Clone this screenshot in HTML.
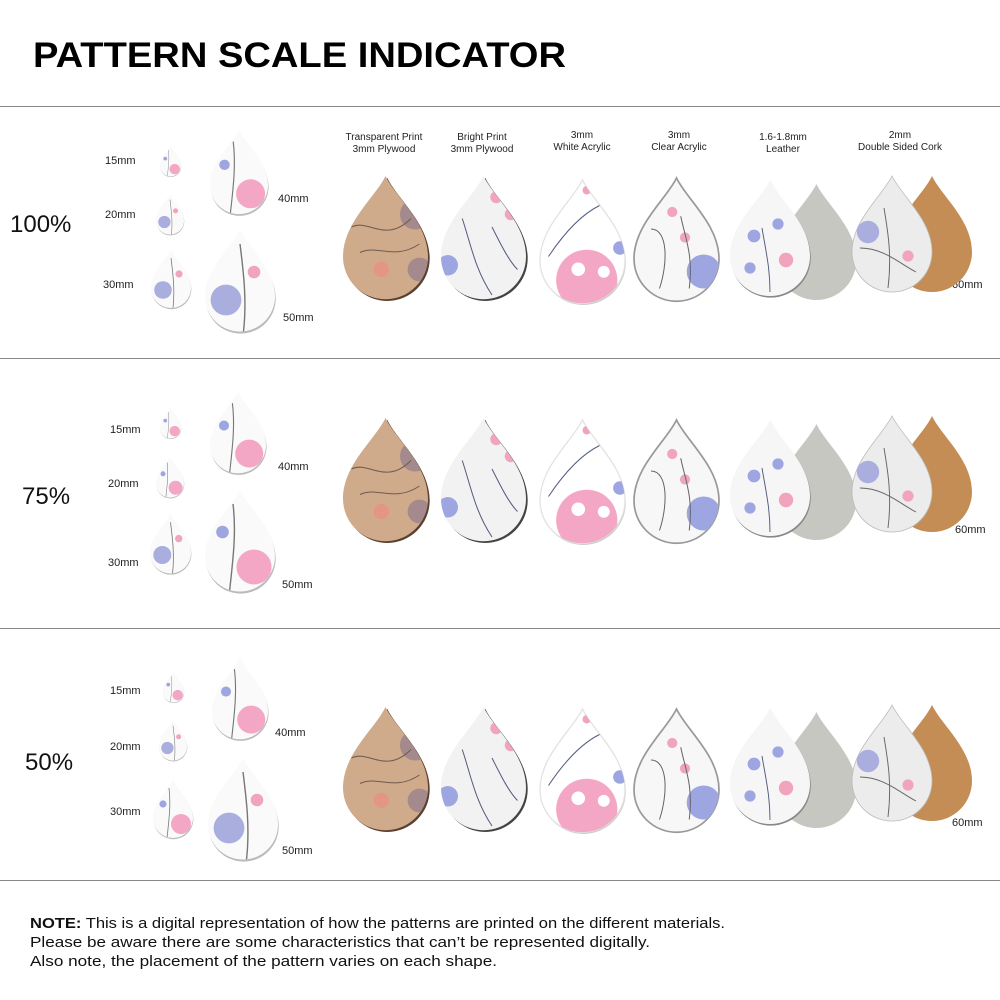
<!DOCTYPE html>
<html><head><meta charset="utf-8"><style>
html,body{margin:0;padding:0;background:#fff;}
svg{display:block;font-family:"Liberation Sans",Arial,sans-serif;}
</style></head><body>
<svg width="1000" height="1000" viewBox="0 0 1000 1000" xmlns="http://www.w3.org/2000/svg">
<defs>
<path id="d" d="M50,0 C62,25 100,55 100,95 A50,50 0 0 1 0,95 C0,55 38,25 50,0 Z"/>
<clipPath id="c"><use href="#d"/></clipPath>
<g id="wood"><use href="#d" fill="#5a4030" transform="translate(2,2)"/><use href="#d" fill="#cfab8b"/><g clip-path="url(#c)"><circle cx="85" cy="45" r="18" fill="#a48a8c"/><circle cx="45" cy="110" r="9" fill="#e49585"/><circle cx="90" cy="110" r="14" fill="#a48a8c"/><path d="M10,60 C30,50 50,80 80,50 M20,90 C40,80 60,100 90,80" stroke="#6e5b50" fill="none" stroke-width="1.2"/></g></g>
<g id="bright"><use href="#d" fill="#444" transform="translate(2,2)"/><use href="#d" fill="#f2f2f2"/><g clip-path="url(#c)"><circle cx="65" cy="25" r="7" fill="#f0a5bc"/><circle cx="8" cy="105" r="12" fill="#9ea6e2"/><circle cx="82" cy="45" r="7" fill="#f0a5bc"/><path d="M25,50 C35,80 40,110 60,140 M60,60 C70,80 80,100 90,110" stroke="#555b80" fill="none" stroke-width="1.2"/></g></g>
<g id="white"><use href="#d" fill="#ccc" transform="translate(1,2)"/><use href="#d" fill="#fff" stroke="#e2e2e2" stroke-width="1.5"/><g clip-path="url(#c)"><ellipse cx="55" cy="118" rx="36" ry="36" fill="#f3a7c4"/><circle cx="45" cy="105" r="8" fill="#fff"/><circle cx="75" cy="108" r="7" fill="#fff"/><circle cx="94" cy="80" r="8" fill="#9ea6e2"/><circle cx="55" cy="12" r="5" fill="#f0a5bc"/><path d="M10,90 C30,60 50,40 70,30" stroke="#555b80" fill="none" stroke-width="1.2"/></g></g>
<g id="clear"><use href="#d" fill="#f7f7f7" stroke="#999" stroke-width="2"/><g clip-path="url(#c)"><circle cx="82" cy="110" r="20" fill="#9ea6e2"/><circle cx="45" cy="40" r="6" fill="#f0a5bc"/><circle cx="60" cy="70" r="6" fill="#f0a5bc"/><path d="M20,60 C40,60 40,100 30,130 M55,45 C60,70 70,90 65,130" stroke="#666" fill="none" stroke-width="1.2"/></g></g>
<g id="leather"><use href="#d" fill="#c6c7c1" transform="translate(58,5)"/><use href="#d" fill="#888" transform="translate(1,2)"/><use href="#d" fill="#f6f6f6"/><g clip-path="url(#c)"><circle cx="30" cy="70" r="8" fill="#9ea6e2"/><circle cx="60" cy="55" r="7" fill="#9ea6e2"/><circle cx="70" cy="100" r="9" fill="#f0a5bc"/><circle cx="25" cy="110" r="7" fill="#9ea6e2"/><path d="M40,60 C45,90 50,110 50,140" stroke="#555b80" fill="none" stroke-width="1.2"/></g></g>
<g id="cork"><use href="#d" fill="#c38d55" transform="translate(50,0)"/><use href="#d" fill="#ececec" stroke="#bbb" stroke-width="1"/><g clip-path="url(#c)"><circle cx="20" cy="70" r="14" fill="#a9aedf"/><circle cx="70" cy="100" r="7" fill="#f0a5bc"/><path d="M10,90 C40,90 60,110 80,120 M40,40 C45,70 50,100 45,140" stroke="#666" fill="none" stroke-width="1.2"/></g></g>
<g id="sm"><use href="#d" fill="#bbb" transform="translate(1,3)"/><use href="#d" fill="#fafafa"/><g clip-path="url(#c)"><circle cx="30" cy="100" r="22" fill="#a9aedf"/><circle cx="70" cy="60" r="9" fill="#f0a5bc"/><path d="M50,20 C55,60 60,100 55,145" stroke="#777" fill="none" stroke-width="2"/></g></g>
<g id="sm2"><use href="#d" fill="#bbb" transform="translate(1,3)"/><use href="#d" fill="#fafafa"/><g clip-path="url(#c)"><circle cx="70" cy="110" r="25" fill="#f3a7c4"/><circle cx="25" cy="60" r="9" fill="#9ea6e2"/><path d="M40,20 C45,60 40,100 35,145" stroke="#777" fill="none" stroke-width="2"/></g></g>
</defs>

<text x="33" y="67" font-size="35" font-weight="bold" fill="#000" textLength="533" lengthAdjust="spacingAndGlyphs">PATTERN SCALE INDICATOR</text>
<g stroke="#888" stroke-width="1"><line x1="0" y1="106.5" x2="1000" y2="106.5"/><line x1="0" y1="358.5" x2="1000" y2="358.5"/><line x1="0" y1="628.5" x2="1000" y2="628.5"/><line x1="0" y1="880.5" x2="1000" y2="880.5"/></g>

<g font-size="10" fill="#222" text-anchor="middle">
<text x="384" y="140">Transparent Print</text><text x="384" y="152">3mm Plywood</text>
<text x="482" y="140">Bright Print</text><text x="482" y="152">3mm Plywood</text>
<text x="582" y="138">3mm</text><text x="582" y="150">White Acrylic</text>
<text x="679" y="138">3mm</text><text x="679" y="150">Clear Acrylic</text>
<text x="783" y="140">1.6-1.8mm</text><text x="783" y="152">Leather</text>
<text x="900" y="138">2mm</text><text x="900" y="150">Double Sided Cork</text>
</g>

<g font-size="24" fill="#111"><text x="10" y="232">100%</text><text x="22" y="504">75%</text><text x="25" y="770">50%</text></g>

<g font-size="11" fill="#222">
<text x="105" y="164">15mm</text><text x="105" y="218">20mm</text><text x="103" y="288">30mm</text><text x="278" y="202">40mm</text><text x="283" y="321">50mm</text><text x="952" y="288">60mm</text>
<text x="110" y="433">15mm</text><text x="108" y="487">20mm</text><text x="108" y="566">30mm</text><text x="278" y="470">40mm</text><text x="282" y="588">50mm</text><text x="955" y="533">60mm</text>
<text x="110" y="694">15mm</text><text x="110" y="750">20mm</text><text x="110" y="815">30mm</text><text x="275" y="736">40mm</text><text x="282" y="854">50mm</text><text x="952" y="826">60mm</text>
</g>

<use href="#sm2" transform="translate(160,146) scale(0.21)"/>
<use href="#sm" transform="translate(156,194) scale(0.28)"/>
<use href="#sm" transform="translate(151,250) scale(0.40)"/>
<use href="#sm2" transform="translate(210,130) scale(0.58)"/>
<use href="#sm" transform="translate(205,230) scale(0.70)"/>
<use href="#wood" transform="translate(343,176) scale(0.85)"/>
<use href="#bright" transform="translate(441,176) scale(0.85)"/>
<use href="#white" transform="translate(540,180) scale(0.85)"/>
<use href="#clear" transform="translate(634,178) scale(0.85)"/>
<use href="#leather" transform="translate(730,180) scale(0.80)"/>
<use href="#cork" transform="translate(852,176) scale(0.80)"/>

<use href="#sm2" transform="translate(160,408) scale(0.21)"/>
<use href="#sm2" transform="translate(156,457) scale(0.28)"/>
<use href="#sm" transform="translate(150,514) scale(0.41)"/>
<use href="#sm2" transform="translate(210,392) scale(0.56)"/>
<use href="#sm2" transform="translate(205,490) scale(0.70)"/>
<use href="#wood" transform="translate(343,418) scale(0.85)"/>
<use href="#bright" transform="translate(441,418) scale(0.85)"/>
<use href="#white" transform="translate(540,420) scale(0.85)"/>
<use href="#clear" transform="translate(634,420) scale(0.85)"/>
<use href="#leather" transform="translate(730,420) scale(0.80)"/>
<use href="#cork" transform="translate(852,416) scale(0.80)"/>

<use href="#sm2" transform="translate(163,672) scale(0.21)"/>
<use href="#sm" transform="translate(159,720) scale(0.28)"/>
<use href="#sm2" transform="translate(153,780) scale(0.40)"/>
<use href="#sm2" transform="translate(212,658) scale(0.56)"/>
<use href="#sm" transform="translate(208,758) scale(0.70)"/>
<use href="#wood" transform="translate(343,707) scale(0.85)"/>
<use href="#bright" transform="translate(441,707) scale(0.85)"/>
<use href="#white" transform="translate(540,709) scale(0.85)"/>
<use href="#clear" transform="translate(634,709) scale(0.85)"/>
<use href="#leather" transform="translate(730,708) scale(0.80)"/>
<use href="#cork" transform="translate(852,705) scale(0.80)"/>

<g font-size="14.5" fill="#111">
<text x="30" y="928" textLength="695" lengthAdjust="spacingAndGlyphs"><tspan font-weight="bold">NOTE:</tspan> This is a digital representation of how the patterns are printed on the different materials.</text>
<text x="30" y="947" textLength="620" lengthAdjust="spacingAndGlyphs">Please be aware there are some characteristics that can’t be represented digitally.</text>
<text x="30" y="966" textLength="467" lengthAdjust="spacingAndGlyphs">Also note, the placement of the pattern varies on each shape.</text>
</g>
</svg>
</body></html>
